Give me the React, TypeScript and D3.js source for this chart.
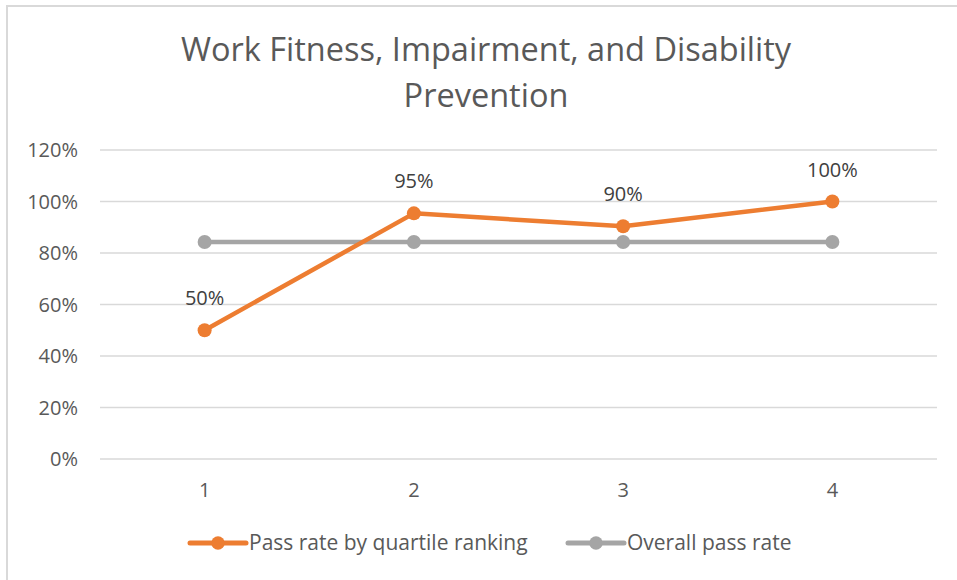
import React from 'react'
import * as d3 from 'd3'

// chart data
const quartiles = ['1', '2', '3', '4']
const passRateByQuartile = [0.5, 0.954, 0.904, 1.0]
const overallPassRate = [0.843, 0.843, 0.843, 0.843]
const yTicks = [0, 0.2, 0.4, 0.6, 0.8, 1.0, 1.2]
const titleLines = ['Work Fitness, Impairment, and Disability', 'Prevention']
const seriesNames = ['Pass rate by quartile ranking', 'Overall pass rate']

const width = 957
const height = 580
const font = '"Open Sans", "Noto Sans", sans-serif'
const textColor = '#595959'
const orange = '#ED7D31'
const gray = '#A5A5A5'

const App = () => {
    const x = d3.scalePoint<string>().domain(quartiles).range([100, 937]).padding(0.5)
    const y = d3.scaleLinear().domain([0, 1.2]).range([459, 150])
    const pct = d3.format('.0%')

    const line = d3.line<number>()
        .x((d, i) => x(quartiles[i]) as number)
        .y(d => y(d))

    const series = [
        {name: seriesNames[0], values: passRateByQuartile, color: orange},
        {name: seriesNames[1], values: overallPassRate, color: gray}
    ]

    // legend slots
    const legend = [
        {x: 190, color: orange, name: seriesNames[0]},
        {x: 568, color: gray, name: seriesNames[1]}
    ]

    return (
        <svg width={width} height={height} style={{position: 'absolute', left: 0, top: 0, background: '#fff'}}>
            <rect x={7} y={6} width={980} height={620} fill='#fff' stroke='#d9d9d9' strokeWidth={2} />

            {titleLines.map((t, i) => (
                <text key={t} x={486} y={61 + i * 46} textAnchor='middle' fontFamily={font}
                    fontSize={32.5} fill={textColor}>{t}</text>
            ))}

            {yTicks.map(t => (
                <g key={t}>
                    <line x1={100} x2={937} y1={y(t)} y2={y(t)} stroke='#d9d9d9' strokeWidth={1.5} />
                    <text x={78} y={y(t) + 7} textAnchor='end' fontFamily={font} fontSize={20}
                        fill={textColor}>{pct(t)}</text>
                </g>
            ))}

            {quartiles.map(q => (
                <text key={q} x={x(q)} y={497} textAnchor='middle' fontFamily={font} fontSize={20}
                    fill={textColor}>{q}</text>
            ))}

            {series.slice().reverse().map(s => (
                <g key={s.name}>
                    <path d={line(s.values) || ''} fill='none' stroke={s.color} strokeWidth={4.5}
                        strokeLinejoin='round' strokeLinecap='round' />
                    {s.values.map((v, i) => (
                        <circle key={i} cx={x(quartiles[i])} cy={y(v)} r={7} fill={s.color} />
                    ))}
                </g>
            ))}

            {passRateByQuartile.map((v, i) => (
                <text key={i} x={x(quartiles[i])} y={y(v) - 25} textAnchor='middle' fontFamily={font}
                    fontSize={20} fill='#404040'>{pct(v)}</text>
            ))}

            {legend.map(l => (
                <g key={l.name}>
                    <line x1={l.x} x2={l.x + 56} y1={543} y2={543} stroke={l.color} strokeWidth={5}
                        strokeLinecap='round' />
                    <circle cx={l.x + 28} cy={543} r={6.7} fill={l.color} />
                    <text x={l.x + 59} y={550} fontFamily={font} fontSize={21} fill={textColor}>{l.name}</text>
                </g>
            ))}
        </svg>
    )
}

export default App
